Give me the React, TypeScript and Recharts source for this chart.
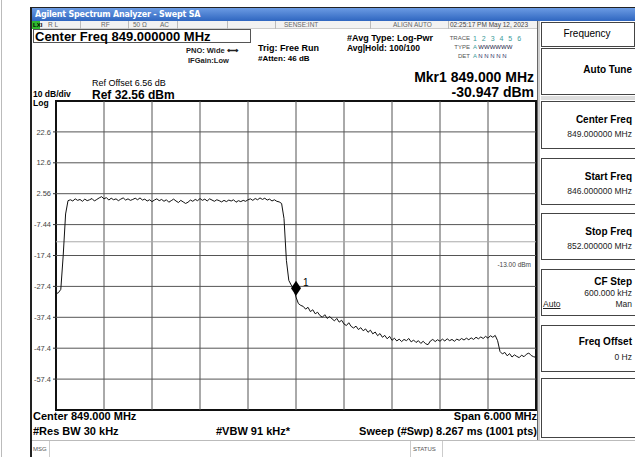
import React from 'react';
import { LineChart, Line, XAxis, YAxis, ReferenceLine, ReferenceArea, ReferenceDot } from 'recharts';

// sweep settings
const START_MHZ = 846;
const STEP_MHZ = 0.03;
const SPAN_END_MHZ = 852;
const REF_LEVEL = 32.56;
const BOTTOM_LEVEL = -67.44;

// trace level in dBm, one value per displayed point
const traceLevels = [
  -29.8, -29.5, -28.4, -17.5, -4.0, 0.3, 0.6, 0.2, 0.9, 0.4,
  0.7, 0.1, 0.8, 0.3, 0.6, 1.0, 0.2, 0.7, 1.2, 1.6,
  0.9, 1.3, 0.5, 1.1, 0.6, 0.9, 0.3, 0.8, 1.2, 0.5,
  0.9, 0.4, 0.7, 1.1, 0.6, 1.2, 0.5, 0.8, 0.2, 0.6,
  0.0, 0.5, 0.9, 0.3, 0.7, 0.1, 0.6, -0.2, 0.3, 0.8,
  0.2, -0.3, 0.4, -0.1, -0.6, -0.2, 0.5, 0.1, 0.7, 0.3,
  1.0, 0.4, 0.8, 0.2, 0.9, 0.5, 0.1, 0.6, 0.3, -0.1,
  0.4, 0.0, 0.5, 0.2, 0.6, -0.2, 0.3, 0.0, 0.4, 0.1,
  0.6, 0.9, 0.4, 1.0, 0.6, 1.2, 0.7, 1.1, 0.5, 0.8,
  0.2, 0.6, 0.1, -0.1, -0.6, -5.5, -19.0, -25.5, -27.0, -28.0,
  -30.9, -33.0, -33.6, -33.9, -34.8, -34.2, -35.6, -35.0, -36.3, -35.8,
  -36.9, -37.4, -36.6, -37.8, -37.2, -37.9, -38.6, -37.8, -39.0, -38.4,
  -39.6, -40.1, -39.2, -40.4, -40.9, -40.3, -41.4, -40.8, -41.8, -41.2,
  -42.3, -41.6, -42.8, -42.2, -43.4, -42.7, -43.9, -43.3, -44.4, -43.6,
  -44.9, -44.2, -45.1, -44.5, -45.3, -44.6, -45.0, -44.3, -45.4, -44.8,
  -45.6, -45.0, -45.9, -45.2, -46.0, -46.3, -45.1, -44.6, -45.3, -44.7,
  -45.2, -44.5, -45.1, -44.4, -45.0, -44.6, -45.2, -44.5, -44.9, -44.3,
  -44.8, -44.2, -44.7, -44.1, -44.6, -43.9, -44.4, -43.8, -44.3, -43.6,
  -44.2, -43.4, -43.9, -43.3, -45.0, -48.5, -49.3, -48.8, -49.9, -49.2,
  -50.3, -49.6, -50.1, -50.5, -49.7, -50.2, -49.4, -49.0, -49.8, -50.2,
  -50.4,
];

const xGridMHz = [846.6, 847.2, 847.8, 848.4, 849.0, 849.6, 850.2, 850.8, 851.4];
const yTicks = [22.56, 12.56, 2.56, -7.44, -17.44, -27.44, -37.44, -47.44, -57.44];
const yTickLabels = ['22.6', '12.6', '2.56', '-7.44', '-17.4', '-27.4', '-37.4', '-47.4', '-57.4'];

const markerFreq = 849.0;
const markerLevel = -30.947;
const displayLine = -13.0;

const data = traceLevels.map((level, i) => ({ freq: +(START_MHZ + i * STEP_MHZ).toFixed(3), level }));

const FONT = '"Liberation Sans", Arial, sans-serif';

const T = ({ x, y, s = 10, b = false, c = '#000', r = false, children, style = {} }: any) => (
  <div
    style={{
      position: 'absolute',
      left: r ? undefined : x,
      right: r ? 635 - x : undefined,
      top: y - s / 2,
      fontSize: s,
      lineHeight: `${s}px`,
      fontWeight: b ? 'bold' : 'normal',
      color: c,
      whiteSpace: 'nowrap',
      fontFamily: FONT,
      ...style,
    }}
  >
    {children}
  </div>
);

const Box = ({ x, y, w, h, style = {} }: any) => (
  <div style={{ position: 'absolute', left: x, top: y, width: w, height: h, boxSizing: 'border-box', ...style }} />
);

const MarkerShape = (props: any) => {
  const { cx, cy } = props;
  const mx = cx;
  const my = cy - 9;
  return (
    <g>
      <polygon points={`${mx},${my - 7.5} ${mx + 5},${my} ${mx},${my + 7.5} ${mx - 5},${my}`} fill="#000" />
      <text x={mx + 7} y={my - 2} fontSize={10} fontFamily={FONT} fill="#000">1</text>
    </g>
  );
};

const softkeys = [
  { top: 101, h: 48, title: 'Center Freq', value: '849.000000 MHz' },
  { top: 158, h: 47, title: 'Start Freq', value: '846.000000 MHz' },
  { top: 213, h: 47, title: 'Stop Freq', value: '852.000000 MHz' },
];

export default function App() {
  return (
    <div style={{ position: 'absolute', left: 0, top: 0, width: 635, height: 457, background: '#fff', overflow: 'hidden', fontFamily: FONT }}>
      {/* outer desktop edge */}
      <Box x={1} y={0} w={1} h={457} style={{ background: '#bbb' }} />
      {/* window frame */}
      <Box x={30} y={7} w={605} h={450} style={{ borderLeft: '2px solid #222', borderTop: '1px solid #222' }} />
      {/* title bar */}
      <Box x={32} y={8} w={603} h={13} style={{ background: 'linear-gradient(#6b9be3, #2f66c0)' }} />
      <T x={35} y={14.5} s={9} c="#fff" b style={{ fontFamily: '"DejaVu Sans", sans-serif', fontSize: 8, letterSpacing: -0.2 }}>Agilent Spectrum Analyzer - Swept SA</T>
      {/* status row */}
      <Box x={32} y={21} w={508} h={8} style={{ background: '#f2f2f2', borderBottom: '1px solid #ccc' }} />
      <Box x={32} y={21} w={8} h={8} style={{ background: '#2fb82f' }} />
      <T x={33} y={25} s={6} c="#000" b>LXI</T>
      {[80, 128, 177, 227, 275, 370, 448].map((x) => (
        <Box key={x} x={x} y={21} w={1} h={8} style={{ background: '#bbb' }} />
      ))}
      <T x={48} y={25} s={6.5} c="#666">R L</T>
      <T x={101} y={25} s={6.5} c="#666">RF</T>
      <T x={133} y={25} s={6.5} c="#666">50 Ω</T>
      <T x={160} y={25} s={6.5} c="#666">AC</T>
      <T x={284} y={25} s={6.5} c="#666">SENSE:INT</T>
      <T x={393} y={25} s={6.5} c="#666">ALIGN AUTO</T>
      <T x={450} y={25} s={6.5} c="#444">02:25:17 PM May 12, 2023</T>

      {/* header */}
      <Box x={33} y={29} w={218} h={14} style={{ border: '1px solid #555' }} />
      <T x={35} y={36} s={13} b>Center Freq 849.000000 MHz</T>
      <T x={186} y={51} s={7.5} b c="#222">PNO: Wide ⟷</T>
      <T x={188} y={61} s={7.5} b c="#222">IFGain:Low</T>
      <T x={258} y={48} s={9} b>Trig: Free Run</T>
      <T x={258} y={59} s={8} b>#Atten: 46 dB</T>
      <T x={347} y={38} s={9} b>#Avg Type: Log-Pwr</T>
      <T x={347} y={48} s={8.5} b>Avg|Hold: 100/100</T>
      <T x={470} y={38} s={6} r c="#555">TRACE</T>
      <T x={470} y={47} s={6} r c="#555">TYPE</T>
      <T x={470} y={56} s={6} r c="#555">DET</T>
      <T x={473} y={38} s={7} c="#3a9a9a" style={{ letterSpacing: 1.5 }}>1 2 3 4 5 6</T>
      <T x={473} y={47} s={6} c="#3a9a9a">A <span style={{ color: '#224' }}>WWWWWW</span></T>
      <T x={473} y={56} s={6} c="#3a9a9a">A <span style={{ color: '#336' }}>N N N N N</span></T>
      <T x={534} y={77} s={14} b r>Mkr1 849.000 MHz</T>
      <T x={534} y={92} s={14} b r>-30.947 dBm</T>
      <T x={92} y={83} s={9}>Ref Offset 6.56 dB</T>
      <T x={92} y={95} s={12} b>Ref 32.56 dBm</T>
      <T x={33} y={94.5} s={8.5} b>10 dB/div</T>
      <T x={33} y={103.5} s={8.5} b>Log</T>

      {/* chart */}
      <div style={{ position: 'absolute', left: 0, top: 0 }}>
        <LineChart width={540} height={415} data={data} margin={{ top: 101, right: 4, bottom: 5, left: 30 }}>
          <XAxis dataKey="freq" type="number" domain={[START_MHZ, SPAN_END_MHZ]} hide allowDataOverflow />
          <YAxis
            type="number"
            domain={[BOTTOM_LEVEL, REF_LEVEL]}
            ticks={yTicks}
            width={26}
            axisLine={false}
            tickSize={3}
            tickLine={{ stroke: '#333' }}
            tick={{ fontSize: 7.5, fill: '#444', fontFamily: FONT }}
            tickFormatter={(v: number) => yTickLabels[yTicks.indexOf(v)] ?? ''}
            allowDataOverflow
          />
          {yTicks.map((v) => (
            <ReferenceLine key={'y' + v} y={v} stroke="#555" strokeWidth={1} ifOverflow="visible" />
          ))}
          {xGridMHz.map((v) => (
            <ReferenceLine key={'x' + v} x={v} stroke="#555" strokeWidth={1} ifOverflow="visible" />
          ))}
          <ReferenceLine
            y={displayLine}
            stroke="#aaa"
            strokeWidth={1}
            label={{ value: '-13.00 dBm', position: 'insideBottomRight', fontSize: 6.5, fill: '#444', fontFamily: FONT, dy: 30 }}
          />
          <ReferenceArea x1={START_MHZ} x2={SPAN_END_MHZ} y1={BOTTOM_LEVEL} y2={REF_LEVEL} fill="none" stroke="#111" strokeWidth={2} ifOverflow="visible" />
          <Line type="linear" dataKey="level" stroke="#111" strokeWidth={1} dot={false} isAnimationActive={false} />
          <ReferenceDot x={markerFreq} y={markerLevel} r={4} shape={MarkerShape} ifOverflow="visible" />
        </LineChart>
      </div>

      {/* bottom annotations */}
      <T x={33} y={416} s={11} b>Center 849.000 MHz</T>
      <T x={537} y={416} s={11} b r>Span 6.000 MHz</T>
      <T x={33} y={431} s={11} b>#Res BW 30 kHz</T>
      <T x={216} y={431} s={11} b>#VBW 91 kHz*</T>
      <T x={537} y={431} s={11} b r>Sweep (#Swp)  8.267 ms (1001 pts)</T>
      <Box x={32} y={440} w={603} h={1} style={{ background: '#bbb' }} />
      <Box x={49} y={441} w={1} h={16} style={{ background: '#ccc' }} />
      <Box x={410} y={441} w={1} h={16} style={{ background: '#ccc' }} />
      <Box x={442} y={441} w={1} h={16} style={{ background: '#ccc' }} />
      <T x={33} y={449} s={6} c="#555">MSG</T>
      <T x={413} y={449} s={6} c="#555">STATUS</T>

      {/* softkey panel */}
      <Box x={537} y={21} w={3} h={419} style={{ background: '#cfcfcf', borderLeft: '1px solid #666' }} />
      <Box x={541} y={22} w={94} h={25} style={{ border: '1px solid #444', background: '#fff' }} />
      <T x={587} y={34} s={10} style={{ transform: 'translateX(-50%)' }}>Frequency</T>
      <Box x={541} y={48} w={94} h={47} style={{ border: '1px solid #444', borderRight: 'none', background: '#fff' }} />
      <T x={632} y={70} s={10} b r>Auto Tune</T>
      <Box x={541} y={96} w={94} h={4} style={{ background: '#ddd' }} />
      {softkeys.map((k) => (
        <React.Fragment key={k.title}>
          <Box x={541} y={k.top} w={94} h={k.h} style={{ border: '1px solid #444', borderRight: 'none', background: '#fff' }} />
          <T x={632} y={k.top + 19} s={10} b r>{k.title}</T>
          <T x={632} y={k.top + 33} s={8.5} r c="#222">{k.value}</T>
        </React.Fragment>
      ))}
      <Box x={541} y={269} w={94} h={47} style={{ border: '1px solid #444', borderRight: 'none', background: '#fff' }} />
      <T x={632} y={282} s={10} b r>CF Step</T>
      <T x={632} y={293} s={8.5} r c="#222">600.000 kHz</T>
      <T x={543} y={304} s={8.5} c="#222" style={{ textDecoration: 'underline' }}>Auto</T>
      <T x={632} y={304} s={8.5} r c="#222">Man</T>
      <Box x={541} y={325} w={94} h={47} style={{ border: '1px solid #444', borderRight: 'none', background: '#fff' }} />
      <T x={632} y={342} s={10} b r>Freq Offset</T>
      <T x={632} y={357} s={8.5} r c="#222">0 Hz</T>
      <Box x={541} y={378} w={94} h={60} style={{ border: '1px solid #444', borderRight: 'none', background: '#fff' }} />
    </div>
  );
}
